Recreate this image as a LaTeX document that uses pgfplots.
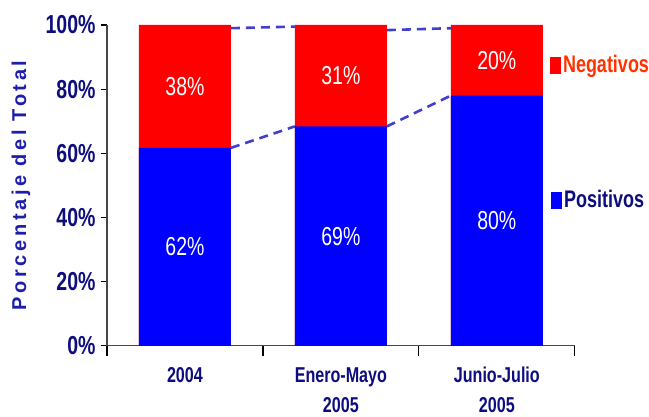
\documentclass[border=0pt]{standalone}
\usepackage{fontspec}
\setmainfont{Liberation Sans}[FakeStretch=0.75]
\newfontfamily\yfont{Liberation Sans}[LetterSpace=18]
\usepackage{pgfplots}
\pgfplotsset{compat=1.18}
\usetikzlibrary{calc}
\definecolor{navy}{RGB}{13,13,128}
\definecolor{ylab}{RGB}{30,30,170}
\definecolor{posblue}{RGB}{0,0,255}
\definecolor{negred}{RGB}{255,0,0}
\definecolor{negtext}{RGB}{255,51,0}
\definecolor{dashcol}{RGB}{64,64,204}
\definecolor{axisgray}{RGB}{70,70,70}
\begin{document}
\begin{tikzpicture}
\begin{axis}[
  scale only axis, width=468pt, height=321pt,
  xmin=-0.5, xmax=2.5, ymin=0, ymax=100,
  clip=false,
  axis x line=bottom, axis y line=left,
  axis line style={-, draw=axisgray, line width=1.2pt},
  ytick={0,20,40,60,80,100},
  yticklabels={0\%,20\%,40\%,60\%,80\%,100\%},
  xtick={0,1,2},
  xticklabels={2004,Enero-Mayo\\2005,Junio-Julio\\2005},
  minor xtick={-0.5,0.5,1.5,2.5},
  tick align=outside,
  major tick length=6pt, minor tick length=10pt,
  major x tick style={draw=none},
  tick style={draw=black, line width=1.2pt},
  yticklabel style={font=\fontsize{26}{28}\selectfont\bfseries, text=navy, xshift=-2pt},
  xticklabel style={font=\fontsize{21.5}{30}\selectfont\bfseries, text=navy, align=center, yshift=-12pt},
  ylabel={\yfont\bfseries Porcentaje del Total},
  ylabel style={font=\fontsize{20}{22}\selectfont, text=ylab, at={(-0.184,0.5)}, anchor=center},
]
\addplot[ybar, bar width=0.59, bar shift=0pt, fill=negred, draw=none] coordinates {(0,100) (1,100) (2,100)};
\addplot[ybar, bar width=0.59, bar shift=0pt, fill=posblue, draw=none] coordinates {(0,61.7) (1,68.4) (2,78.0)};
\addplot[sharp plot, dashed, dash pattern=on 9pt off 6pt, draw=dashcol, line width=2.6pt, unbounded coords=jump] coordinates {(0.295,61.7) (0.705,68.4) (1.5,nan) (1.295,68.4) (1.705,78.0)};
\addplot[sharp plot, dashed, dash pattern=on 9pt off 6pt, draw=dashcol, line width=2.6pt, unbounded coords=jump] coordinates {(0.295,99.0) (0.705,99.5) (1.5,nan) (1.295,98.4) (1.705,99.0)};
\addplot[only marks, mark=none, nodes near coords, point meta=explicit symbolic,
  every node near coord/.style={anchor=center, text=white, font=\fontsize{26}{28}\selectfont}]
  coordinates {(0,80.85)[38\%] (1,84.2)[31\%] (2,89)[20\%] (0,30.85)[62\%] (1,34.2)[69\%] (2,39)[80\%]};
\end{axis}
\path (current axis.south west) ++(-107pt,-69pt) coordinate (bbA);
\path (current axis.north east) ++(74pt,25pt) coordinate (bbB);
\path (bbA) rectangle (bbB);
\fill[negred] ($(current axis.north east)+(-25pt,-32pt)$) rectangle ++(11pt,-17pt);
\node[anchor=base west, inner sep=0pt, text=negtext, font=\fontsize{24}{28}\selectfont\bfseries] at ($(current axis.north east)+(-12pt,-48pt)$) {Negativos};
\fill[posblue] ($(current axis.north east)+(-24pt,-167pt)$) rectangle ++(11pt,-17pt);
\node[anchor=base west, inner sep=0pt, text=navy, font=\fontsize{24}{28}\selectfont\bfseries] at ($(current axis.north east)+(-11pt,-183pt)$) {Positivos};
\end{tikzpicture}
\end{document}
